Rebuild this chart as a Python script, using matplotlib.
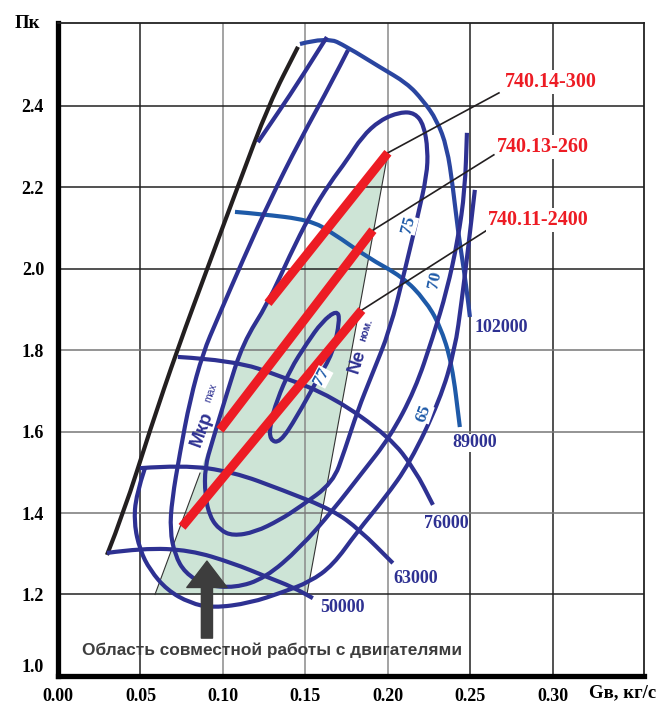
import matplotlib
matplotlib.use('Agg')
import matplotlib.pyplot as plt
from matplotlib.patches import FancyArrowPatch, PathPatch
from matplotlib.path import Path

# surge line
surge_x = [0.0297, 0.0400, 0.0558, 0.0727, 0.0909, 0.1091, 0.1279, 0.1455]
surge_y = [1.297, 1.402, 1.604, 1.805, 2.004, 2.202, 2.404, 2.544]

# speed lines, rpm
n50_x = [0.0297, 0.0515, 0.0800, 0.1061, 0.1267, 0.1424, 0.1545]
n50_y = [1.302, 1.314, 1.309, 1.277, 1.243, 1.218, 1.191]
n63_x = [0.0497, 0.0758, 0.1061, 0.1364, 0.1667, 0.1830, 0.2030]
n63_y = [1.510, 1.518, 1.501, 1.456, 1.407, 1.358, 1.277]
n76_x = [0.0727, 0.1061, 0.1364, 0.1667, 0.2012, 0.2164, 0.2273]
n76_y = [1.783, 1.775, 1.734, 1.685, 1.586, 1.506, 1.420]
n89_x = [0.1073, 0.1224, 0.1527, 0.1667, 0.1873, 0.2091, 0.2224, 0.2315, 0.2388, 0.2436]
n89_y = [2.139, 2.134, 2.119, 2.087, 2.028, 1.979, 1.923, 1.861, 1.768, 1.611]
n102_x = [0.1467, 0.1630, 0.1752, 0.1952, 0.2115, 0.2212, 0.2297, 0.2358, 0.2394, 0.2424,
          0.2461, 0.2485, 0.2497]
n102_y = [2.551, 2.568, 2.544, 2.494, 2.455, 2.413, 2.364, 2.298, 2.200, 2.094,
          1.996, 1.923, 1.881]
speed_labels = ['50000', '63000', '76000', '89000', '102000']
speed_lab_x = [0.1588, 0.2036, 0.2218, 0.2388, 0.2527]
speed_lab_y = [1.167, 1.240, 1.375, 1.572, 1.856]

# efficiency contours, %
e_top_x = [0.1630, 0.1467, 0.1345, 0.1212]
e_top_y = [2.568, 2.463, 2.389, 2.310]
e65_x = [0.0527, 0.0473, 0.0461, 0.0497, 0.0558, 0.0661, 0.0800, 0.0939, 0.1164, 0.1364,
         0.1527, 0.1667, 0.1812, 0.1982, 0.2133, 0.2315, 0.2406, 0.2448, 0.2485, 0.2527]
e65_y = [1.510, 1.444, 1.375, 1.309, 1.260, 1.211, 1.179, 1.167, 1.179, 1.206,
         1.231, 1.272, 1.353, 1.437, 1.523, 1.677, 1.800, 1.923, 2.045, 2.193]
e70_x = [0.1758, 0.1667, 0.1467, 0.1285, 0.1121, 0.0964, 0.0879, 0.0800, 0.0739, 0.0691,
         0.0679, 0.0709, 0.0770, 0.0891, 0.1073, 0.1255, 0.1467, 0.1667, 0.1842, 0.2012,
         0.2164, 0.2273, 0.2358, 0.2424, 0.2467, 0.2479]
e70_y = [2.536, 2.463, 2.315, 2.168, 2.021, 1.874, 1.793, 1.677, 1.547, 1.432,
         1.358, 1.297, 1.253, 1.223, 1.216, 1.240, 1.314, 1.407, 1.498, 1.586,
         1.702, 1.832, 1.947, 2.070, 2.193, 2.333]
e75_x = [0.2073, 0.1952, 0.1842, 0.1752, 0.1648, 0.1527, 0.1406, 0.1273, 0.1121, 0.1024,
         0.0933, 0.0891, 0.0891, 0.0921, 0.0982, 0.1061, 0.1194, 0.1345, 0.1467, 0.1667,
         0.1739, 0.1818, 0.1903, 0.2012, 0.2103, 0.2182, 0.2236, 0.2242, 0.2218, 0.2164, 0.2073]
e75_y = [2.384, 2.364, 2.323, 2.266, 2.210, 2.131, 2.033, 1.915, 1.817, 1.694,
         1.572, 1.513, 1.444, 1.390, 1.358, 1.344, 1.353, 1.383, 1.415, 1.474,
         1.555, 1.653, 1.739, 1.849, 1.996, 2.131, 2.229, 2.291, 2.352, 2.382, 2.384]
e77_x = [0.1691, 0.1600, 0.1509, 0.1406, 0.1327, 0.1285, 0.1285, 0.1345, 0.1448, 0.1570,
         0.1667, 0.1709, 0.1691]
e77_y = [1.898, 1.869, 1.817, 1.751, 1.677, 1.616, 1.579, 1.572, 1.636, 1.726,
         1.793, 1.874, 1.898]
eff_labels = ['77', '75', '70', '65']
eff_lab_x = [0.1600, 0.2127, 0.2285, 0.2218]
eff_lab_y = [1.734, 2.107, 1.972, 1.645]
eff_lab_rot = [62, 75, 78, 70]

# engine operating lines
eng_names = ['740.14-300', '740.13-260', '740.11-2400']
eng_x0 = [0.1273, 0.0982, 0.0752]
eng_y0 = [1.915, 1.604, 1.366]
eng_x1 = [0.2000, 0.1909, 0.1842]
eng_y1 = [2.284, 2.094, 1.898]
lead_x = [0.2673, 0.2642, 0.2600]
lead_y = [2.431, 2.279, 2.094]
name_x = [0.2709, 0.2661, 0.2606]
name_y = [2.458, 2.298, 2.119]

# joint operation zone
zone_x = [0.2000, 0.1509, 0.0588, 0.0861, 0.0921, 0.1024, 0.1121, 0.1273]
zone_y = [2.284, 1.200, 1.200, 1.498, 1.572, 1.694, 1.817, 1.915]

xticks = [0.00, 0.05, 0.10, 0.15, 0.20, 0.25, 0.30]
xtick_labels = ['0.00', '0.05', '0.10', '0.15', '0.20', '0.25', '0.30']
yticks = [1.0, 1.2, 1.4, 1.6, 1.8, 2.0, 2.2, 2.4]
ytick_labels = ['1.0', '1.2', '1.4', '1.6', '1.8', '2.0', '2.2', '2.4']

NAVY = '#2E3192'
MID = '#1E5AA8'
RED = '#ED1C24'
SERIF = 'Liberation Serif'
SANS = 'Liberation Sans'


def smooth_path(x, y):
    # quadratic bezier through the midpoints, the given points act as controls
    pts = list(zip(x, y))
    closed = pts[0] == pts[-1]
    if closed:
        pts = pts[:-1]
        n = len(pts)
        mid = lambda a, b: ((a[0] + b[0]) / 2, (a[1] + b[1]) / 2)
        verts = [mid(pts[0], pts[1])]
        codes = [Path.MOVETO]
        for i in range(1, n + 1):
            p = pts[i % n]
            q = pts[(i + 1) % n]
            verts += [p, mid(p, q)]
            codes += [Path.CURVE3, Path.CURVE3]
        return Path(verts, codes)
    verts = [pts[0]]
    codes = [Path.MOVETO]
    for i in range(1, len(pts) - 1):
        p, q = pts[i], pts[i + 1]
        verts += [p, ((p[0] + q[0]) / 2, (p[1] + q[1]) / 2)]
        codes += [Path.CURVE3, Path.CURVE3]
    verts.append(pts[-1])
    codes.append(Path.LINETO)
    return Path(verts, codes)


fig = plt.figure(figsize=(6.64, 7.06), dpi=100)
ax = fig.add_axes([0.0873, 0.0425, 0.8825, 0.9249])
ax.set_xlim(0, 0.3552)
ax.set_ylim(1.0, 2.6025)

# grid
vcol = {0.05: '#222222', 0.10: '#8a8a8a', 0.15: '#8a8a8a', 0.20: '#8a8a8a',
        0.25: '#222222', 0.30: '#222222'}
for gx in xticks[1:]:
    ax.axvline(gx, color=vcol[gx], lw=1.1, zorder=1)
for gy in yticks[1:]:
    c = '#777777' if gy in (1.4, 1.6, 1.8) else '#222222'
    ax.axhline(gy, color=c, lw=1.1, zorder=1)

ax.fill(zone_x, zone_y, color='#CDE4D6', lw=0, zorder=0.5)
ax.plot([zone_x[2], zone_x[3]], [zone_y[2], zone_y[3]], color='#333333', lw=0.8, zorder=2)
ax.plot([zone_x[0], zone_x[1]], [zone_y[0], zone_y[1]], color='#333333', lw=0.8, zorder=2)


def curve(x, y, color=NAVY, lw=3.0):
    ax.add_patch(PathPatch(smooth_path(x, y), fill=False, edgecolor=color, lw=lw,
                           capstyle='butt', joinstyle='round', zorder=3))


curve(surge_x, surge_y, color='#231F20')
curve(n50_x, n50_y)
curve(n63_x, n63_y)
curve(n76_x, n76_y)
curve(n89_x, n89_y, color=MID)
curve(n102_x, n102_y, color='#2A45A0')
curve(e_top_x, e_top_y)
curve(e65_x, e65_y)
curve(e70_x, e70_y)
curve(e75_x, e75_y)
curve(e77_x, e77_y)

for lab, lx, ly in zip(speed_labels, speed_lab_x, speed_lab_y):
    ax.text(lx, ly, lab, color=NAVY, fontsize=13, fontweight='bold', family=SERIF,
            ha='left', va='center', zorder=6,
            bbox=dict(facecolor='white', edgecolor='none', pad=0.5))

for lab, lx, ly, rot in zip(eff_labels, eff_lab_x, eff_lab_y, eff_lab_rot):
    ax.text(lx, ly, lab, color=MID, fontsize=12.5, fontweight='bold', family=SERIF,
            ha='center', va='center', rotation=rot, zorder=6,
            bbox=dict(facecolor='white', edgecolor='none', pad=0.3))

for i in range(3):
    ax.plot([eng_x1[i], lead_x[i]], [eng_y1[i], lead_y[i]], color='#231F20', lw=1.2, zorder=4)
    ax.plot([eng_x0[i], eng_x1[i]], [eng_y0[i], eng_y1[i]], color=RED, lw=6.5,
            solid_capstyle='butt', zorder=5)
    ax.text(name_x[i], name_y[i], eng_names[i], color=RED, fontsize=14.5, fontweight='bold',
            family=SERIF, ha='left', va='center', zorder=6,
            bbox=dict(facecolor='white', edgecolor='none', pad=1.5))

ax.text(0.0876, 1.607, 'Мкр', color=NAVY, fontsize=13.5, fontweight='bold', family=SANS,
        rotation=70, ha='center', va='center', zorder=6)
ax.text(0.0925, 1.695, 'max', color=NAVY, fontsize=7.5, family=SANS,
        rotation=70, ha='center', va='center', zorder=6)
ax.text(0.1812, 1.772, 'Ne', color=NAVY, fontsize=13.5, fontweight='bold', family=SANS,
        rotation=72, ha='center', va='center', zorder=6)
ax.text(0.1870, 1.848, 'ном.', color=NAVY, fontsize=7.5, fontweight='bold', family=SANS,
        rotation=72, ha='center', va='center', zorder=6)

arrow = FancyArrowPatch((0.0903, 1.093), (0.0903, 1.282),
                        arrowstyle='simple,head_width=2.9,head_length=1.9,tail_width=0.8',
                        mutation_scale=10, color='#3D3D3D', shrinkA=0, shrinkB=0, zorder=6)
ax.add_patch(arrow)
ax.text(0.1297, 1.064, 'Область совместной работы с двигателями', color='#3D3D3D',
        fontsize=12.4, fontweight='bold', family=SANS, ha='center', va='center', zorder=6)

ax.set_xticks(xticks)
ax.set_xticklabels(xtick_labels)
ax.set_yticks(yticks)
ax.set_yticklabels(ytick_labels)
ax.tick_params(length=0)
ax.tick_params(axis='x', pad=9)
ax.tick_params(axis='y', pad=10)
for t in ax.get_xticklabels() + ax.get_yticklabels():
    t.set_fontfamily(SERIF)
    t.set_fontweight('bold')
    t.set_fontsize(13)
ax.get_yticklabels()[0].set_va('bottom')

for side in ('left', 'bottom'):
    ax.spines[side].set_linewidth(3.8)
    ax.spines[side].set_color('black')
for side in ('top', 'right'):
    ax.spines[side].set_linewidth(1.3)
    ax.spines[side].set_color('#222222')

fig.text(0.0407, 0.9674, 'Пк', fontsize=13.5, fontweight='bold', family=SERIF,
         ha='center', va='center')
fig.text(0.887, 0.0184, 'Gв, кг/с', fontsize=13.5, fontweight='bold', family=SERIF,
         ha='left', va='center')

fig.savefig('out.png', dpi=100)
